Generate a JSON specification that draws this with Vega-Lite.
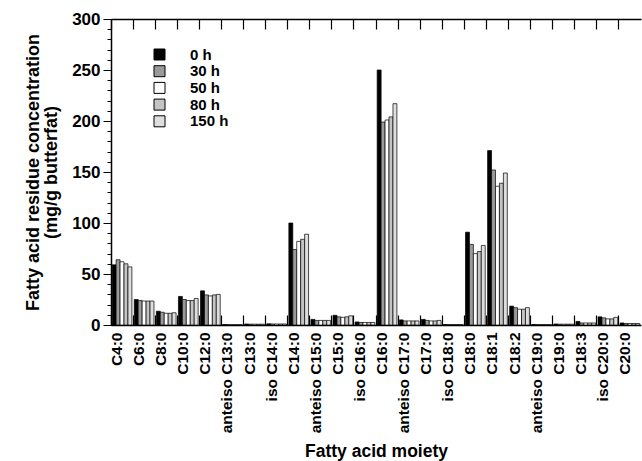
{
  "$schema": "https://vega.github.io/schema/vega-lite/v6.json",
  "width": 530,
  "height": 306,
  "autosize": "none",
  "padding": {"left": 111, "top": 19, "right": 1, "bottom": 136},
  "background": "white",
  "config": {
    "font": "Liberation Sans",
    "view": {"stroke": null},
    "axis": {"labelFont": "Liberation Sans", "titleFont": "Liberation Sans", "labelFontWeight": "bold", "titleFontWeight": "bold", "labelColor": "black", "titleColor": "black", "domainColor": "black", "tickColor": "black", "grid": false}
  },
  "data": {"values": [
    {"acid": "C4:0", "time": "0 h", "value": 59}, {"acid": "C4:0", "time": "30 h", "value": 64}, {"acid": "C4:0", "time": "50 h", "value": 62}, {"acid": "C4:0", "time": "80 h", "value": 60}, {"acid": "C4:0", "time": "150 h", "value": 57},
    {"acid": "C6:0", "time": "0 h", "value": 25}, {"acid": "C6:0", "time": "30 h", "value": 24}, {"acid": "C6:0", "time": "50 h", "value": 23.5}, {"acid": "C6:0", "time": "80 h", "value": 23.5}, {"acid": "C6:0", "time": "150 h", "value": 23.5},
    {"acid": "C8:0", "time": "0 h", "value": 13.5}, {"acid": "C8:0", "time": "30 h", "value": 12.5}, {"acid": "C8:0", "time": "50 h", "value": 11.5}, {"acid": "C8:0", "time": "80 h", "value": 11.5}, {"acid": "C8:0", "time": "150 h", "value": 12},
    {"acid": "C10:0", "time": "0 h", "value": 28}, {"acid": "C10:0", "time": "30 h", "value": 25}, {"acid": "C10:0", "time": "50 h", "value": 24}, {"acid": "C10:0", "time": "80 h", "value": 24}, {"acid": "C10:0", "time": "150 h", "value": 26},
    {"acid": "C12:0", "time": "0 h", "value": 33.5}, {"acid": "C12:0", "time": "30 h", "value": 29.5}, {"acid": "C12:0", "time": "50 h", "value": 28.5}, {"acid": "C12:0", "time": "80 h", "value": 29.5}, {"acid": "C12:0", "time": "150 h", "value": 30},
    {"acid": "anteiso C13:0", "time": "0 h", "value": 0.5}, {"acid": "anteiso C13:0", "time": "30 h", "value": 0.3}, {"acid": "anteiso C13:0", "time": "50 h", "value": 0.3}, {"acid": "anteiso C13:0", "time": "80 h", "value": 0.3}, {"acid": "anteiso C13:0", "time": "150 h", "value": 0.3},
    {"acid": "C13:0", "time": "0 h", "value": 1}, {"acid": "C13:0", "time": "30 h", "value": 0.8}, {"acid": "C13:0", "time": "50 h", "value": 0.8}, {"acid": "C13:0", "time": "80 h", "value": 0.8}, {"acid": "C13:0", "time": "150 h", "value": 0.8},
    {"acid": "iso C14:0", "time": "0 h", "value": 1.2}, {"acid": "iso C14:0", "time": "30 h", "value": 1}, {"acid": "iso C14:0", "time": "50 h", "value": 1}, {"acid": "iso C14:0", "time": "80 h", "value": 1}, {"acid": "iso C14:0", "time": "150 h", "value": 1},
    {"acid": "C14:0", "time": "0 h", "value": 100}, {"acid": "C14:0", "time": "30 h", "value": 74}, {"acid": "C14:0", "time": "50 h", "value": 82}, {"acid": "C14:0", "time": "80 h", "value": 84}, {"acid": "C14:0", "time": "150 h", "value": 89},
    {"acid": "anteiso C15:0", "time": "0 h", "value": 5.5}, {"acid": "anteiso C15:0", "time": "30 h", "value": 4.5}, {"acid": "anteiso C15:0", "time": "50 h", "value": 4.5}, {"acid": "anteiso C15:0", "time": "80 h", "value": 4.5}, {"acid": "anteiso C15:0", "time": "150 h", "value": 4.5},
    {"acid": "C15:0", "time": "0 h", "value": 9.5}, {"acid": "C15:0", "time": "30 h", "value": 8}, {"acid": "C15:0", "time": "50 h", "value": 7.5}, {"acid": "C15:0", "time": "80 h", "value": 8}, {"acid": "C15:0", "time": "150 h", "value": 9},
    {"acid": "iso C16:0", "time": "0 h", "value": 3}, {"acid": "iso C16:0", "time": "30 h", "value": 2.5}, {"acid": "iso C16:0", "time": "50 h", "value": 2.5}, {"acid": "iso C16:0", "time": "80 h", "value": 2.5}, {"acid": "iso C16:0", "time": "150 h", "value": 2.5},
    {"acid": "C16:0", "time": "0 h", "value": 250}, {"acid": "C16:0", "time": "30 h", "value": 199}, {"acid": "C16:0", "time": "50 h", "value": 201}, {"acid": "C16:0", "time": "80 h", "value": 204}, {"acid": "C16:0", "time": "150 h", "value": 217},
    {"acid": "anteiso C17:0", "time": "0 h", "value": 5}, {"acid": "anteiso C17:0", "time": "30 h", "value": 4}, {"acid": "anteiso C17:0", "time": "50 h", "value": 4}, {"acid": "anteiso C17:0", "time": "80 h", "value": 4}, {"acid": "anteiso C17:0", "time": "150 h", "value": 4},
    {"acid": "C17:0", "time": "0 h", "value": 5.5}, {"acid": "C17:0", "time": "30 h", "value": 4.5}, {"acid": "C17:0", "time": "50 h", "value": 4}, {"acid": "C17:0", "time": "80 h", "value": 4}, {"acid": "C17:0", "time": "150 h", "value": 4.5},
    {"acid": "iso C18:0", "time": "0 h", "value": 0.5}, {"acid": "iso C18:0", "time": "30 h", "value": 0.4}, {"acid": "iso C18:0", "time": "50 h", "value": 0.4}, {"acid": "iso C18:0", "time": "80 h", "value": 0.4}, {"acid": "iso C18:0", "time": "150 h", "value": 0.4},
    {"acid": "C18:0", "time": "0 h", "value": 91}, {"acid": "C18:0", "time": "30 h", "value": 79}, {"acid": "C18:0", "time": "50 h", "value": 70}, {"acid": "C18:0", "time": "80 h", "value": 72}, {"acid": "C18:0", "time": "150 h", "value": 78},
    {"acid": "C18:1", "time": "0 h", "value": 171}, {"acid": "C18:1", "time": "30 h", "value": 152}, {"acid": "C18:1", "time": "50 h", "value": 136}, {"acid": "C18:1", "time": "80 h", "value": 139}, {"acid": "C18:1", "time": "150 h", "value": 149},
    {"acid": "C18:2", "time": "0 h", "value": 18.5}, {"acid": "C18:2", "time": "30 h", "value": 17}, {"acid": "C18:2", "time": "50 h", "value": 15.5}, {"acid": "C18:2", "time": "80 h", "value": 15.5}, {"acid": "C18:2", "time": "150 h", "value": 17},
    {"acid": "anteiso C19:0", "time": "0 h", "value": 0.5}, {"acid": "anteiso C19:0", "time": "30 h", "value": 0.4}, {"acid": "anteiso C19:0", "time": "50 h", "value": 0.4}, {"acid": "anteiso C19:0", "time": "80 h", "value": 0.4}, {"acid": "anteiso C19:0", "time": "150 h", "value": 0.4},
    {"acid": "C19:0", "time": "0 h", "value": 1}, {"acid": "C19:0", "time": "30 h", "value": 0.8}, {"acid": "C19:0", "time": "50 h", "value": 0.8}, {"acid": "C19:0", "time": "80 h", "value": 0.8}, {"acid": "C19:0", "time": "150 h", "value": 0.8},
    {"acid": "C18:3", "time": "0 h", "value": 3.5}, {"acid": "C18:3", "time": "30 h", "value": 2}, {"acid": "C18:3", "time": "50 h", "value": 2}, {"acid": "C18:3", "time": "80 h", "value": 2}, {"acid": "C18:3", "time": "150 h", "value": 2},
    {"acid": "iso C20:0", "time": "0 h", "value": 8}, {"acid": "iso C20:0", "time": "30 h", "value": 7}, {"acid": "iso C20:0", "time": "50 h", "value": 6}, {"acid": "iso C20:0", "time": "80 h", "value": 6}, {"acid": "iso C20:0", "time": "150 h", "value": 7.5},
    {"acid": "C20:0", "time": "0 h", "value": 2}, {"acid": "C20:0", "time": "30 h", "value": 1.5}, {"acid": "C20:0", "time": "50 h", "value": 1.5}, {"acid": "C20:0", "time": "80 h", "value": 1.5}, {"acid": "C20:0", "time": "150 h", "value": 1.5}
  ]},
  "layer": [
    {
      "mark": {"type": "bar", "stroke": "black", "strokeWidth": 0.7},
      "encoding": {
        "x": {"field": "acid", "type": "nominal",
          "sort": ["C4:0","C6:0","C8:0","C10:0","C12:0","anteiso C13:0","C13:0","iso C14:0","C14:0","anteiso C15:0","C15:0","iso C16:0","C16:0","anteiso C17:0","C17:0","iso C18:0","C18:0","C18:1","C18:2","anteiso C19:0","C19:0","C18:3","iso C20:0","C20:0"],
          "scale": {"paddingInner": 0, "paddingOuter": 0},
          "axis": {"orient": "bottom", "ticks": false, "labelAngle": -90, "labelAlign": "right", "labelBaseline": "middle", "labelFontSize": 15.5, "labelPadding": 7, "labelOffset": -5, "title": "Fatty acid moiety", "titleFontSize": 17.5, "titleY": 131, "titleBaseline": "alphabetic", "domainWidth": 1.5}},
        "xOffset": {"field": "time", "type": "nominal", "sort": ["0 h","30 h","50 h","80 h","150 h"], "scale": {"paddingOuter": 0.3, "paddingInner": 0}},
        "y": {"field": "value", "type": "quantitative", "scale": {"domain": [0, 300], "nice": false},
          "axis": {"orient": "left", "values": [0,50,100,150,200,250,300], "tickSize": 8, "labelFontSize": 17, "labelPadding": 3,
            "title": ["Fatty acid residue concentration", "(mg/g butterfat)"], "titleFontSize": 18, "titleX": -78, "titleBaseline": "middle", "titleLineHeight": 18, "domainWidth": 1.5}},
        "fill": {"field": "time", "type": "nominal",
          "scale": {"domain": ["0 h","30 h","50 h","80 h","150 h"], "range": ["#000000","#9a9a9a","#ffffff","#c4c4c4","#dedede"]},
          "legend": {"orient": "none", "legendX": 41, "legendY": 28, "title": null, "symbolType": "square", "symbolSize": 121, "symbolStrokeColor": "black", "symbolStrokeWidth": 1, "labelFontSize": 15, "labelFontWeight": "bold", "labelFont": "Liberation Sans", "labelColor": "black", "labelOffset": 23, "rowPadding": 0.7, "padding": 0}}
      }
    },
    {
      "mark": {"type": "tick", "opacity": 0},
      "encoding": {
        "x": {"field": "acid", "type": "nominal",
          "sort": ["C4:0","C6:0","C8:0","C10:0","C12:0","anteiso C13:0","C13:0","iso C14:0","C14:0","anteiso C15:0","C15:0","iso C16:0","C16:0","anteiso C17:0","C17:0","iso C18:0","C18:0","C18:1","C18:2","anteiso C19:0","C19:0","C18:3","iso C20:0","C20:0"],
          "axis": {"orient": "bottom", "bandPosition": 0, "labels": false, "domain": false, "ticks": false, "grid": true, "gridColor": "black", "gridOpacity": 1, "gridWidth": 1.2, "gridDash": [10, 286], "title": null}},
        "y": {"field": "value", "type": "quantitative",
          "axis": {"orient": "left", "values": [0,10,20,30,40,50,60,70,80,90,100,110,120,130,140,150,160,170,180,190,200,210,220,230,240,250,260,270,280,290,300], "tickSize": 4, "labels": false, "domain": false, "title": null}}
      }
    },
    {
      "mark": {"type": "tick", "opacity": 0},
      "encoding": {
        "x": {"field": "acid", "type": "nominal",
          "sort": ["C4:0","C6:0","C8:0","C10:0","C12:0","anteiso C13:0","C13:0","iso C14:0","C14:0","anteiso C15:0","C15:0","iso C16:0","C16:0","anteiso C17:0","C17:0","iso C18:0","C18:0","C18:1","C18:2","anteiso C19:0","C19:0","C18:3","iso C20:0","C20:0"],
          "axis": {"orient": "top", "labels": false, "ticks": false, "title": null, "domainWidth": 1.5}}
      }
    }
  ],
  "resolve": {"axis": {"x": "independent", "y": "independent"}}
}
